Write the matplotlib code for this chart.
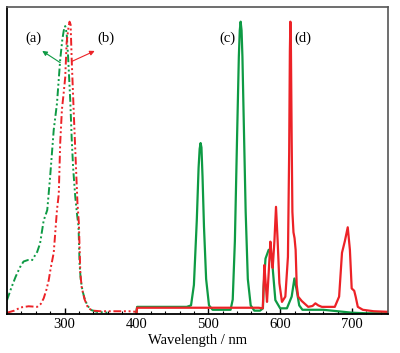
import numpy as np
from matplotlib import pyplot as plt

plt.rcParams['font.family'] = ['Liberation Serif', 'DejaVu Serif']

GREEN = '#0e9a44'
RED = '#ec2227'

# (a) excitation, green
wl_a = [220, 226, 232, 238, 243, 249, 255, 262, 266, 271, 276, 280, 285, 289.5, 294, 297, 299,
        301, 303, 305, 308, 310, 312, 315, 317.5, 319.5, 321, 322.5, 325, 328.6, 332, 336, 345, 360]
int_a = [0.048, 0.09, 0.128, 0.16, 0.18, 0.185, 0.185, 0.213, 0.242, 0.32, 0.356, 0.47, 0.63, 0.72, 0.87, 0.94,
         0.97, 0.985, 0.96, 0.88, 0.73, 0.6, 0.5, 0.4, 0.34, 0.3, 0.17, 0.12, 0.08, 0.048, 0.03, 0.015, 0.008,
         0.005]

# (b) excitation, red
wl_b = [220, 230, 239, 250, 262, 267, 271, 275, 278, 281, 285, 289.5, 292, 294, 296.4, 299, 301, 303,
        305.5, 307, 308.5, 310, 313, 316, 318, 320, 322, 324, 328, 333, 340, 350, 370, 390, 400]
int_b = [0.005, 0.012, 0.023, 0.027, 0.025, 0.035, 0.054, 0.085, 0.116, 0.16, 0.21, 0.356, 0.41, 0.585, 0.7,
         0.76, 0.81, 0.93, 0.98, 1.0, 0.99, 0.87, 0.68, 0.5, 0.38, 0.31, 0.14, 0.09, 0.05, 0.02, 0.012, 0.01,
         0.01, 0.01, 0.008]

# (c) emission, green
wl_c = [400, 401, 420, 450, 470, 476, 480, 484, 486.5, 488, 489.3, 490.5, 492, 494, 497, 501, 506, 520,
        531, 534, 537, 540, 542.5, 543.8, 545, 546.3, 547.5, 549, 552, 555, 559, 564, 572, 576, 577, 579.6,
        584, 587, 589.6, 593.3, 600, 609.4, 616, 619.8, 623, 626.5, 631, 640, 660, 680, 700, 720, 750]
int_c = [0.0, 0.025, 0.025, 0.025, 0.025, 0.03, 0.1, 0.32, 0.5, 0.565, 0.585, 0.57, 0.47, 0.3, 0.12, 0.03,
         0.015, 0.015, 0.015, 0.05, 0.25, 0.6, 0.88, 0.97, 1.0, 0.97, 0.88, 0.7, 0.35, 0.12, 0.03, 0.012, 0.012,
         0.02, 0.094, 0.19, 0.22, 0.21, 0.157, 0.048, 0.02, 0.02, 0.06, 0.122, 0.082, 0.03, 0.015, 0.015, 0.015,
         0.01, 0.005, 0.003, 0.003]

# (d) emission, red
wl_d = [400, 401, 450, 500, 550, 570, 575.8, 578, 580, 581.7, 584, 586.4, 588, 589.6, 592, 594.2, 596.5,
        598.9, 602.5, 607.2, 610.8, 612.5, 613.5, 614.2, 615, 616, 617, 618.5, 620, 621.5, 623, 625, 630, 639,
        645, 649, 653, 658, 676, 682, 686, 690, 694, 697, 699.5, 703, 705, 708, 715, 730, 750]
int_d = [0.0, 0.022, 0.022, 0.022, 0.022, 0.022, 0.02, 0.168, 0.1, 0.042, 0.14, 0.248, 0.2, 0.158, 0.25,
         0.367, 0.25, 0.106, 0.042, 0.06, 0.196, 0.55, 0.9, 1.0, 0.9, 0.6, 0.35, 0.28, 0.26, 0.22, 0.1, 0.06,
         0.045, 0.025, 0.028, 0.037, 0.03, 0.025, 0.025, 0.06, 0.21, 0.25, 0.297, 0.22, 0.088, 0.08, 0.06,
         0.025, 0.015, 0.01, 0.008]

fig = plt.figure(figsize=(4.0, 3.53), dpi=100)
ax = fig.add_axes([0.0175, 0.11, 0.9525, 0.87])

dd = (4, 1.4, 1, 1.4, 1, 1.4)
ax.plot(wl_a, int_a, color=GREEN, lw=1.4, dashes=dd)
ax.plot(wl_b, int_b, color=RED, lw=1.4, dashes=dd)
ax.plot(wl_c, int_c, color=GREEN, lw=1.6)
ax.plot(wl_d, int_d, color=RED, lw=1.6)

ax.set_xlim(220, 750)
ax.set_ylim(0, 1.05)
ax.set_xticks([300, 400, 500, 600, 700])
ax.set_xticks(np.arange(240, 750, 20), minor=True)
ax.set_yticks([])
ax.tick_params(axis='x', which='both', direction='in', labelsize=10.5, pad=3)
ax.tick_params(axis='x', which='major', length=4, width=1)
ax.tick_params(axis='x', which='minor', length=2.5, width=0.8)
ax.set_xlabel('Wavelength / nm', fontsize=10.5, labelpad=2)

for s in ['left', 'bottom']:
    ax.spines[s].set_color('black')
    ax.spines[s].set_linewidth(1.3)
for s in ['top', 'right']:
    ax.spines[s].set_color('#555555')
    ax.spines[s].set_linewidth(1.2)

arrow_kw = dict(arrowstyle='-|>', lw=0.8, mutation_scale=7, shrinkA=0, shrinkB=0)
ax.annotate('', xy=(269, 0.90), xytext=(294, 0.86), arrowprops=dict(color=GREEN, **arrow_kw))
ax.annotate('', xy=(342, 0.90), xytext=(310, 0.864), arrowprops=dict(color=RED, **arrow_kw))
ax.text(257, 0.945, '(a)', ha='center', va='center', fontsize=10.5)
ax.text(357, 0.945, '(b)', ha='center', va='center', fontsize=10.5)
ax.text(527, 0.945, '(c)', ha='center', va='center', fontsize=10.5)
ax.text(632, 0.945, '(d)', ha='center', va='center', fontsize=10.5)

fig.savefig('out.png', dpi=100)
